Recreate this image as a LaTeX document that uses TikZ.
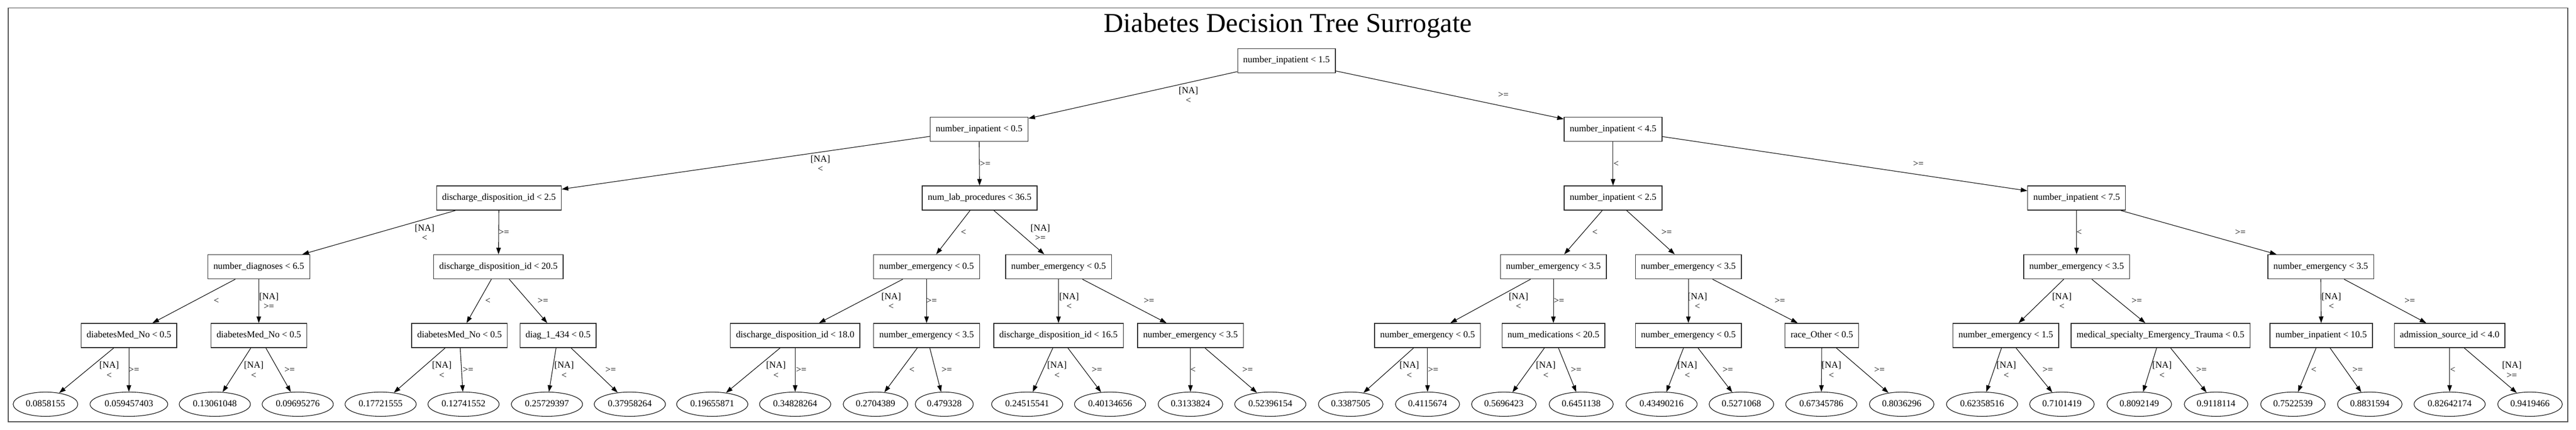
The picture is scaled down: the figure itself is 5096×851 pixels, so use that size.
\documentclass[tikz,border=0pt]{standalone}
\usepackage{fontspec}
\setmainfont{Liberation Serif}
\usetikzlibrary{arrows.meta,shapes.geometric}
\newcommand\treefnt{\fontsize{18.3}{19.5}\selectfont}
\newcommand\titlefnt{\fontsize{54}{60}\selectfont}
\newcommand\edgelbl[4]{\draw[edge] (#1) -- (#2); \node[lbl] (lab-#1-#2) at (#3) {#4};}
\tikzset{
  split/.style={rectangle, draw=black!85, line width=1.4pt, minimum height=48pt,
    inner xsep=11pt, inner ysep=0pt, font=\treefnt, text height=12.5pt, text depth=4pt},
  leaf/.style={ellipse, draw=black, line width=1.1pt, minimum height=48pt,
    inner xsep=6.3pt, inner ysep=0pt, font=\treefnt, text height=12.5pt, text depth=4pt},
  edge/.style={draw=black, line width=1.1pt, -{Triangle[length=13pt,width=9pt]}},
  lbl/.style={font=\treefnt, align=center, inner sep=0pt},
  frame/.style={draw=black!70, line width=1.5pt},
}
\begin{document}
\begin{tikzpicture}[x=1pt, y=-1pt]
\useasboundingbox (0,0) rectangle (5096,851);
\draw[frame] (16.5,16) rectangle (5079.5,834.5);
\node[font=\titlefnt, anchor=base, inner sep=0pt] (title) at (2548,64) {Diabetes Decision Tree Surrogate};

% level 0-1
\node[split] (r) at (2545,120) {number\_inpatient < 1.5};
\node[split] (a) at (1937,256) {number\_inpatient < 0.5};
\node[split] (b) at (3191,256) {number\_inpatient < 4.5};
% level 2
\node[split] (aa) at (987,392) {discharge\_disposition\_id < 2.5};
\node[split] (ab) at (1938,392) {num\_lab\_procedures < 36.5};
\node[split] (ba) at (3191,392) {number\_inpatient < 2.5};
\node[split] (bb) at (4108,392) {number\_inpatient < 7.5};
% level 3
\node[split] (aaa) at (512,528) {number\_diagnoses < 6.5};
\node[split] (aab) at (986,528) {discharge\_disposition\_id < 20.5};
\node[split] (aba) at (1833,528) {number\_emergency < 0.5};
\node[split] (abb) at (2094,528) {number\_emergency < 0.5};
\node[split] (baa) at (3073,528) {number\_emergency < 3.5};
\node[split] (bab) at (3340,528) {number\_emergency < 3.5};
\node[split] (bba) at (4108,528) {number\_emergency < 3.5};
\node[split] (bbb) at (4591,528) {number\_emergency < 3.5};
% level 4
\node[split] (aaaa) at (255,664) {diabetesMed\_No < 0.5};
\node[split] (aaab) at (512,664) {diabetesMed\_No < 0.5};
\node[split] (aaba) at (909,664) {diabetesMed\_No < 0.5};
\node[split] (aabb) at (1104,664) {diag\_1\_434 < 0.5};
\node[split] (abaa) at (1573,664) {discharge\_disposition\_id < 18.0};
\node[split] (abab) at (1833,664) {number\_emergency < 3.5};
\node[split] (abba) at (2094,664) {discharge\_disposition\_id < 16.5};
\node[split] (abbb) at (2355,664) {number\_emergency < 3.5};
\node[split] (baaa) at (2824,664) {number\_emergency < 0.5};
\node[split] (baab) at (3073,664) {num\_medications < 20.5};
\node[split] (baba) at (3340,664) {number\_emergency < 0.5};
\node[split] (babb) at (3604,664) {race\_Other < 0.5};
\node[split] (bbaa) at (3968,664) {number\_emergency < 1.5};
\node[split] (bbab) at (4274,664) {medical\_specialty\_Emergency\_Trauma < 0.5};
\node[split] (bbba) at (4592,664) {number\_inpatient < 10.5};
\node[split] (bbbb) at (4846,664) {admission\_source\_id < 4.0};
% leaves
\node[leaf] (l1) at (90,800) {0.0858155};
\node[leaf] (l2) at (255,800) {0.059457403};
\node[leaf] (l3) at (425,800) {0.13061048};
\node[leaf] (l4) at (589,800) {0.09695276};
\node[leaf] (l5) at (753,800) {0.17721555};
\node[leaf] (l6) at (917,800) {0.12741552};
\node[leaf] (l7) at (1082,800) {0.25729397};
\node[leaf] (l8) at (1246,800) {0.37958264};
\node[leaf] (l9) at (1409,800) {0.19655871};
\node[leaf] (l10) at (1573,800) {0.34828264};
\node[leaf] (l11) at (1732,800) {0.2704389};
\node[leaf] (l12) at (1868,800) {0.479328};
\node[leaf] (l13) at (2032,800) {0.24515541};
\node[leaf] (l14) at (2196,800) {0.40134656};
\node[leaf] (l15) at (2355,800) {0.3133824};
\node[leaf] (l16) at (2513,800) {0.52396154};
\node[leaf] (l17) at (2672,800) {0.3387505};
\node[leaf] (l18) at (2824,800) {0.4115674};
\node[leaf] (l19) at (2975,800) {0.5696423};
\node[leaf] (l20) at (3128,800) {0.6451138};
\node[leaf] (l21) at (3287,800) {0.43490216};
\node[leaf] (l22) at (3445,800) {0.5271068};
\node[leaf] (l23) at (3603,800) {0.67345786};
\node[leaf] (l24) at (3762,800) {0.8036296};
\node[leaf] (l25) at (3921,800) {0.62358516};
\node[leaf] (l26) at (4079,800) {0.7101419};
\node[leaf] (l27) at (4232,800) {0.8092149};
\node[leaf] (l28) at (4384,800) {0.9118114};
\node[leaf] (l29) at (4536,800) {0.7522539};
\node[leaf] (l30) at (4688,800) {0.8831594};
\node[leaf] (l31) at (4846,800) {0.82642174};
\node[leaf] (l32) at (5005,800) {0.9419466};

% edges with labels
\edgelbl{r}{a}{2351,188}{[NA]\\<}
\edgelbl{r}{b}{2974,188}{>=}
\edgelbl{a}{aa}{1623,324}{[NA]\\<}
\edgelbl{a}{ab}{1949,324}{>=}
\edgelbl{b}{ba}{3197,324}{<}
\edgelbl{b}{bb}{3795,324}{>=}
\edgelbl{aa}{aaa}{840,460}{[NA]\\<}
\edgelbl{aa}{aab}{997,460}{>=}
\edgelbl{ab}{aba}{1906,460}{<}
\edgelbl{ab}{abb}{2058,460}{[NA]\\>=}
\edgelbl{ba}{baa}{3155,460}{<}
\edgelbl{ba}{bab}{3297,460}{>=}
\edgelbl{bb}{bba}{4113,460}{<}
\edgelbl{bb}{bbb}{4432,460}{>=}
\edgelbl{aaa}{aaaa}{428,596}{<}
\edgelbl{aaa}{aaab}{532,596}{[NA]\\>=}
\edgelbl{aab}{aaba}{965,596}{<}
\edgelbl{aab}{aabb}{1074,596}{>=}
\edgelbl{aba}{abaa}{1763,596}{[NA]\\<}
\edgelbl{aba}{abab}{1843,596}{>=}
\edgelbl{abb}{abba}{2115,596}{[NA]\\<}
\edgelbl{abb}{abbb}{2273,596}{>=}
\edgelbl{baa}{baaa}{3004,596}{[NA]\\<}
\edgelbl{baa}{baab}{3084,596}{>=}
\edgelbl{bab}{baba}{3358,596}{[NA]\\<}
\edgelbl{bab}{babb}{3521,596}{>=}
\edgelbl{bba}{bbaa}{4079,596}{[NA]\\<}
\edgelbl{bba}{bbab}{4227,596}{>=}
\edgelbl{bbb}{bbba}{4612,596}{[NA]\\<}
\edgelbl{bbb}{bbbb}{4767,596}{>=}
\edgelbl{aaaa}{l1}{216,732}{[NA]\\<}
\edgelbl{aaaa}{l2}{265,732}{>=}
\edgelbl{aaab}{l3}{502,732}{[NA]\\<}
\edgelbl{aaab}{l4}{573,732}{>=}
\edgelbl{aaba}{l5}{874,732}{[NA]\\<}
\edgelbl{aaba}{l6}{926,732}{>=}
\edgelbl{aabb}{l7}{1116,732}{[NA]\\<}
\edgelbl{aabb}{l8}{1208,732}{>=}
\edgelbl{abaa}{l9}{1535,732}{[NA]\\<}
\edgelbl{abaa}{l10}{1585,732}{>=}
\edgelbl{abab}{l11}{1804,732}{<}
\edgelbl{abab}{l12}{1873,732}{>=}
\edgelbl{abba}{l13}{2091,732}{[NA]\\<}
\edgelbl{abba}{l14}{2170,732}{>=}
\edgelbl{abbb}{l15}{2360,732}{<}
\edgelbl{abbb}{l16}{2468,732}{>=}
\edgelbl{baaa}{l17}{2788,732}{[NA]\\<}
\edgelbl{baaa}{l18}{2835,732}{>=}
\edgelbl{baab}{l19}{3058,732}{[NA]\\<}
\edgelbl{baab}{l20}{3118,732}{>=}
\edgelbl{baba}{l21}{3338,732}{[NA]\\<}
\edgelbl{baba}{l22}{3418,732}{>=}
\edgelbl{babb}{l23}{3623,732}{[NA]\\<}
\edgelbl{babb}{l24}{3718,732}{>=}
\edgelbl{bbaa}{l25}{3969,732}{[NA]\\<}
\edgelbl{bbaa}{l26}{4051,732}{>=}
\edgelbl{bbab}{l27}{4277,732}{[NA]\\<}
\edgelbl{bbab}{l28}{4355,732}{>=}
\edgelbl{bbba}{l29}{4577,732}{<}
\edgelbl{bbba}{l30}{4664,732}{>=}
\edgelbl{bbbb}{l31}{4852,732}{<}
\edgelbl{bbbb}{l32}{4969,732}{[NA]\\>=}
\end{tikzpicture}
\end{document}
